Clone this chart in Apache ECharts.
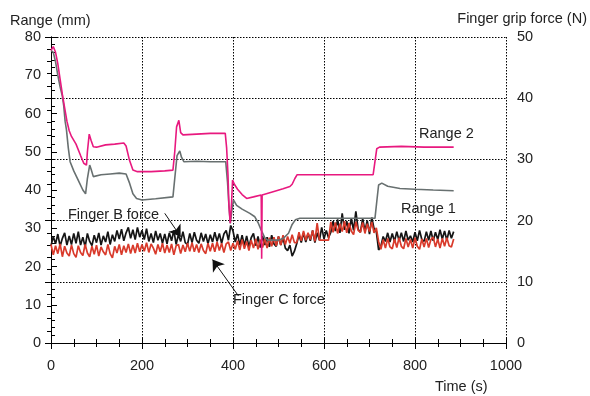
<!DOCTYPE html>
<html>
<head>
<meta charset="utf-8">
<script src="https://cdn.jsdelivr.net/npm/echarts@6/dist/echarts.min.js"></script>
<style>
html,body{margin:0;padding:0;background:#fff;}
#chart{width:590px;height:396px;}
</style>
</head>
<body>
<div id="chart"></div>
<script>
// ---- Data ----
const xTicks = [0, 200, 400, 600, 800, 1000];
const leftTicks = [0, 10, 20, 30, 40, 50, 60, 70, 80];
const rightTicks = [0, 10, 20, 30, 40, 50];

// Range 2 (mm) : [time s, range mm]
const range2 = [[0,76.5],[5,77.5],[10,76],[15,73],[20,69],[25,65],[30,61.5],[35,58],[40,55.5],[45,54],[55,52],[65,49],[72,47],[78,46.5],[80,50],[84,54.6],[88,53],[93,51.3],[100,51.2],[120,51.8],[140,52],[160,52.3],[165,51.5],[172,48],[180,45.2],[190,44.8],[220,44.8],[250,45],[268,45.2],[272,50],[276,56.5],[281,58.2],[285,55],[290,54.4],[320,54.6],[350,54.8],[383,54.8],[386,51],[389,44],[391,36],[394,31.3],[397,37],[399,42.6],[403,41.5],[410,40.2],[420,38.8],[430,37.8],[445,38.2],[462,38.7],[463,22],[464,38.7],[490,39.6],[510,40.3],[525,40.9],[530,41.5],[536,43],[541,44],[560,44],[600,44],[650,44],[708,44],[712,44.5],[716,50.8],[722,51.2],[770,51.4],[820,51.2],[885,51.2]];

// Range 1 (mm) : [time s, range mm]
const range1 = [[0,76.5],[5,76],[10,73.5],[15,70],[20,67],[25,64.5],[28,62],[31,58],[34,55.7],[38,51],[42,47.4],[50,45],[60,42.5],[70,40],[76,39],[80,43],[85,46.5],[88,45.5],[93,43.5],[110,44],[130,44.2],[150,44.4],[165,44.2],[172,42],[180,39],[188,37.8],[200,37.4],[230,37.7],[268,38.2],[272,43],[277,49],[283,50.2],[287,48.5],[292,47.4],[320,47.5],[350,47.4],[384,47.4],[388,42],[391,36],[394,31.3],[398,35],[401,37.4],[408,36],[420,35],[437,33.9],[448,33],[455,31.5],[462,29.5],[470,27.5],[476,26.9],[500,26.9],[510,27.3],[522,28.7],[530,31],[537,32.2],[547,32.6],[600,32.6],[650,32.6],[712,32.6],[716,37],[720,41.3],[727,41.8],[740,41],[767,40.4],[800,40.2],[840,40],[885,39.8]];

// Forces (N) sampled every 5 s from t = 0 s
const forceStep = 5;
const fingerB = [
15.9,17.4,16.2,17.8,15.8,17.1,18.0,16.0,17.5,16.1,
17.9,16.3,18.2,16.0,17.3,15.7,17.9,16.6,15.9,17.6,
16.4,18.0,16.0,17.5,16.5,18.2,16.1,17.7,16.6,18.4,
17.0,18.6,16.7,18.0,18.9,17.1,18.5,16.9,18.9,17.3,
18.4,16.9,18.7,16.6,17.9,16.4,18.3,16.8,17.9,16.3,
17.8,16.2,18.0,16.7,18.4,16.1,17.7,16.6,18.2,16.4,
16.1,17.9,16.4,18.1,16.8,16.3,18.0,16.6,17.8,16.2,
17.7,16.5,18.1,16.6,17.9,16.3,17.8,18.4,16.8,19.2,
18.3,16.5,17.8,16.0,17.6,15.9,17.5,15.7,17.2,17.9,
15.9,17.4,15.6,17.5,16.0,17.3,15.7,17.6,16.2,15.8,
17.4,16.0,17.2,15.5,15.1,16.0,14.2,15.0,
16.2,17.7,16.4,18.0,16.5,17.9,16.7,18.4,16.4,18.0,16.8,18.9,17.0,18.4,17.2,
18.1,19.9,18.3,20.2,18.0,21.2,18.5,19.9,17.9,20.4,18.4,21.5,18.6,18.1,20.3,18.3,20.0,17.8,20.5,18.7,18.2,
15.2,15.8,17.4,16.6,18.0,16.5,17.9,16.6,18.2,16.7,
18.0,16.6,18.3,16.8,17.5,16.5,18.1,16.7,18.4,16.9,
16.6,18.2,16.8,18.3,16.7,18.1,16.9,18.5,17.0,18.3,
16.8,18.4,17.1,18.2
];
const fingerC = [
16.1,14.4,15.9,14.6,16.2,14.1,15.8,14.7,14.2,16.0,
14.6,14.0,15.9,14.8,14.3,16.1,14.7,14.1,15.8,14.5,
16.0,14.2,15.7,14.9,14.4,16.1,14.6,13.9,15.8,14.7,
16.1,14.4,15.9,14.8,16.2,14.6,16.0,14.7,16.3,14.9,
16.1,15.0,16.4,14.8,16.2,15.5,14.5,16.1,14.9,16.3,
14.7,16.0,14.8,16.2,14.4,15.9,16.1,14.6,16.0,14.9,
16.3,15.0,16.4,14.9,16.1,14.8,16.2,15.1,14.6,16.3,
15.0,16.3,14.9,16.5,15.1,16.3,14.8,16.2,16.5,15.1,
16.3,15.3,16.7,15.2,16.9,15.4,16.6,15.1,16.8,15.5,
17.0,15.3,16.9,15.6,17.1,15.5,17.2,15.8,17.3,15.9,
17.4,16.0,17.6,16.1,17.4,16.3,17.7,16.4,
16.4,18.1,16.7,18.3,16.8,18.0,16.9,18.4,16.6,19.6,16.8,16.8,16.8,16.8,16.8,
19.8,18.1,19.7,17.9,19.5,18.2,19.9,18.0,19.6,18.3,17.7,19.8,18.4,18.1,19.7,17.9,19.5,18.2,19.8,18.0,18.8,
16.6,15.3,16.9,15.5,17.1,15.7,15.4,17.0,15.6,17.2,
15.8,15.4,17.1,15.7,16.9,15.5,17.2,15.8,15.3,17.0,
15.7,17.1,15.6,16.9,17.3,15.7,17.0,15.5,17.1,15.8,
17.2,15.9,15.7,17.0
];

// annotation arrows (data coords on left axis): [tail, head]
const arrowB = [[250, 33.9], [285, 27.8]];
const arrowC = [[412, 12.3], [355, 21.8]];

// ---- Chart ----
const toPairs = (arr) => arr.map((v, i) => [i * forceStep, v]);
const FONT = '"Liberation Sans", Arial, Helvetica, sans-serif';
const TXT = '#222';

const chart = echarts.init(document.getElementById('chart'), null, {renderer: 'canvas'});

const xCommon = {
  type: 'value', min: xTicks[0], max: xTicks[xTicks.length - 1], interval: xTicks[1] - xTicks[0],
  axisLine: {show: true, lineStyle: {color: '#000', width: 1}},
  axisTick: {show: true, inside: true, length: 6, lineStyle: {color: '#000'}},
  minorTick: {show: true, splitNumber: 4, length: 4, lineStyle: {color: '#000'}},
};

chart.setOption({
  animation: false,
  backgroundColor: '#fff',
  grid: {left: 51, right: 84, top: 37, bottom: 53, containLabel: false},
  xAxis: [
    Object.assign({}, xCommon, {
      position: 'bottom',
      splitLine: {show: true, lineStyle: {color: '#000', type: [1.5, 1.5], width: 1}},
      axisLabel: {margin: 15, fontSize: 14.5, color: TXT, fontFamily: FONT, formatter: (v) => String(v)}
    }),
    Object.assign({}, xCommon, {
      position: 'top',
      splitLine: {show: false},
      axisLabel: {show: false}
    })
  ],
  yAxis: [
    {
      type: 'value', position: 'left', min: leftTicks[0], max: leftTicks[leftTicks.length - 1],
      interval: leftTicks[1] - leftTicks[0],
      axisLine: {show: true, lineStyle: {color: '#000', width: 1}},
      axisTick: {show: true, inside: true, length: 6, lineStyle: {color: '#000'}},
      minorTick: {show: true, splitNumber: 5, length: 4, lineStyle: {color: '#000'}},
      splitLine: {show: false},
      axisLabel: {margin: 10, fontSize: 14.5, color: TXT, fontFamily: FONT}
    },
    {
      type: 'value', position: 'right', min: rightTicks[0], max: rightTicks[rightTicks.length - 1],
      interval: rightTicks[1] - rightTicks[0],
      axisLine: {show: true, lineStyle: {color: '#000', width: 1}},
      axisTick: {show: true, inside: true, length: 6, lineStyle: {color: '#000'}},
      minorTick: {show: true, splitNumber: 5, length: 4, lineStyle: {color: '#000'}},
      splitLine: {show: true, lineStyle: {color: '#000', type: [1.5, 1.5], width: 1}},
      axisLabel: {margin: 11, fontSize: 14.5, color: TXT, fontFamily: FONT}
    }
  ],
  series: [
    {
      name: 'Finger C force', type: 'line', xAxisIndex: 0, yAxisIndex: 1,
      data: toPairs(fingerC), showSymbol: false, symbol: 'none',
      lineStyle: {color: '#d93a2b', width: 1.7}, z: 2
    },
    {
      name: 'Finger B force', type: 'line', xAxisIndex: 0, yAxisIndex: 1,
      data: toPairs(fingerB), showSymbol: false, symbol: 'none',
      lineStyle: {color: '#151515', width: 1.7}, z: 1
    },
    {
      name: 'Range 1', type: 'line', xAxisIndex: 0, yAxisIndex: 0,
      data: range1, showSymbol: false, symbol: 'none',
      lineStyle: {color: '#687070', width: 1.6}, z: 3,
      markLine: {
        silent: true, animation: false,
        symbol: ['none', 'arrow'], symbolSize: 11,
        label: {show: false},
        lineStyle: {color: '#111', width: 1, type: 'solid'},
        data: [
          [{coord: arrowB[0]}, {coord: arrowB[1]}],
          [{coord: arrowC[0]}, {coord: arrowC[1]}]
        ]
      }
    },
    {
      name: 'Range 2', type: 'line', xAxisIndex: 0, yAxisIndex: 0,
      data: range2, showSymbol: false, symbol: 'none',
      lineStyle: {color: '#e8197f', width: 1.6}, z: 4
    }
  ],
  graphic: [
    {type: 'text', x: 10, y: 21, style: {text: 'Range (mm)', font: '14.5px ' + FONT, fill: TXT, textAlign: 'left', textVerticalAlign: 'middle'}},
    {type: 'text', x: 587, y: 19, style: {text: 'Finger grip force (N)', font: '14.5px ' + FONT, fill: TXT, textAlign: 'right', textVerticalAlign: 'middle'}},
    {type: 'text', x: 435, y: 387, style: {text: 'Time (s)', font: '14.5px ' + FONT, fill: TXT, textAlign: 'left', textVerticalAlign: 'middle'}},
    {type: 'text', x: 419, y: 134, style: {text: 'Range 2', font: '14.5px ' + FONT, fill: TXT, textAlign: 'left', textVerticalAlign: 'middle'}},
    {type: 'text', x: 401, y: 209, style: {text: 'Range 1', font: '14.5px ' + FONT, fill: TXT, textAlign: 'left', textVerticalAlign: 'middle'}},
    {type: 'text', x: 68, y: 215, style: {text: 'Finger B force', font: '14.5px ' + FONT, fill: TXT, textAlign: 'left', textVerticalAlign: 'middle'}},
    {type: 'text', x: 233, y: 300, style: {text: 'Finger C force', font: '14.5px ' + FONT, fill: TXT, textAlign: 'left', textVerticalAlign: 'middle'}}
  ]
});
</script>
</body>
</html>
